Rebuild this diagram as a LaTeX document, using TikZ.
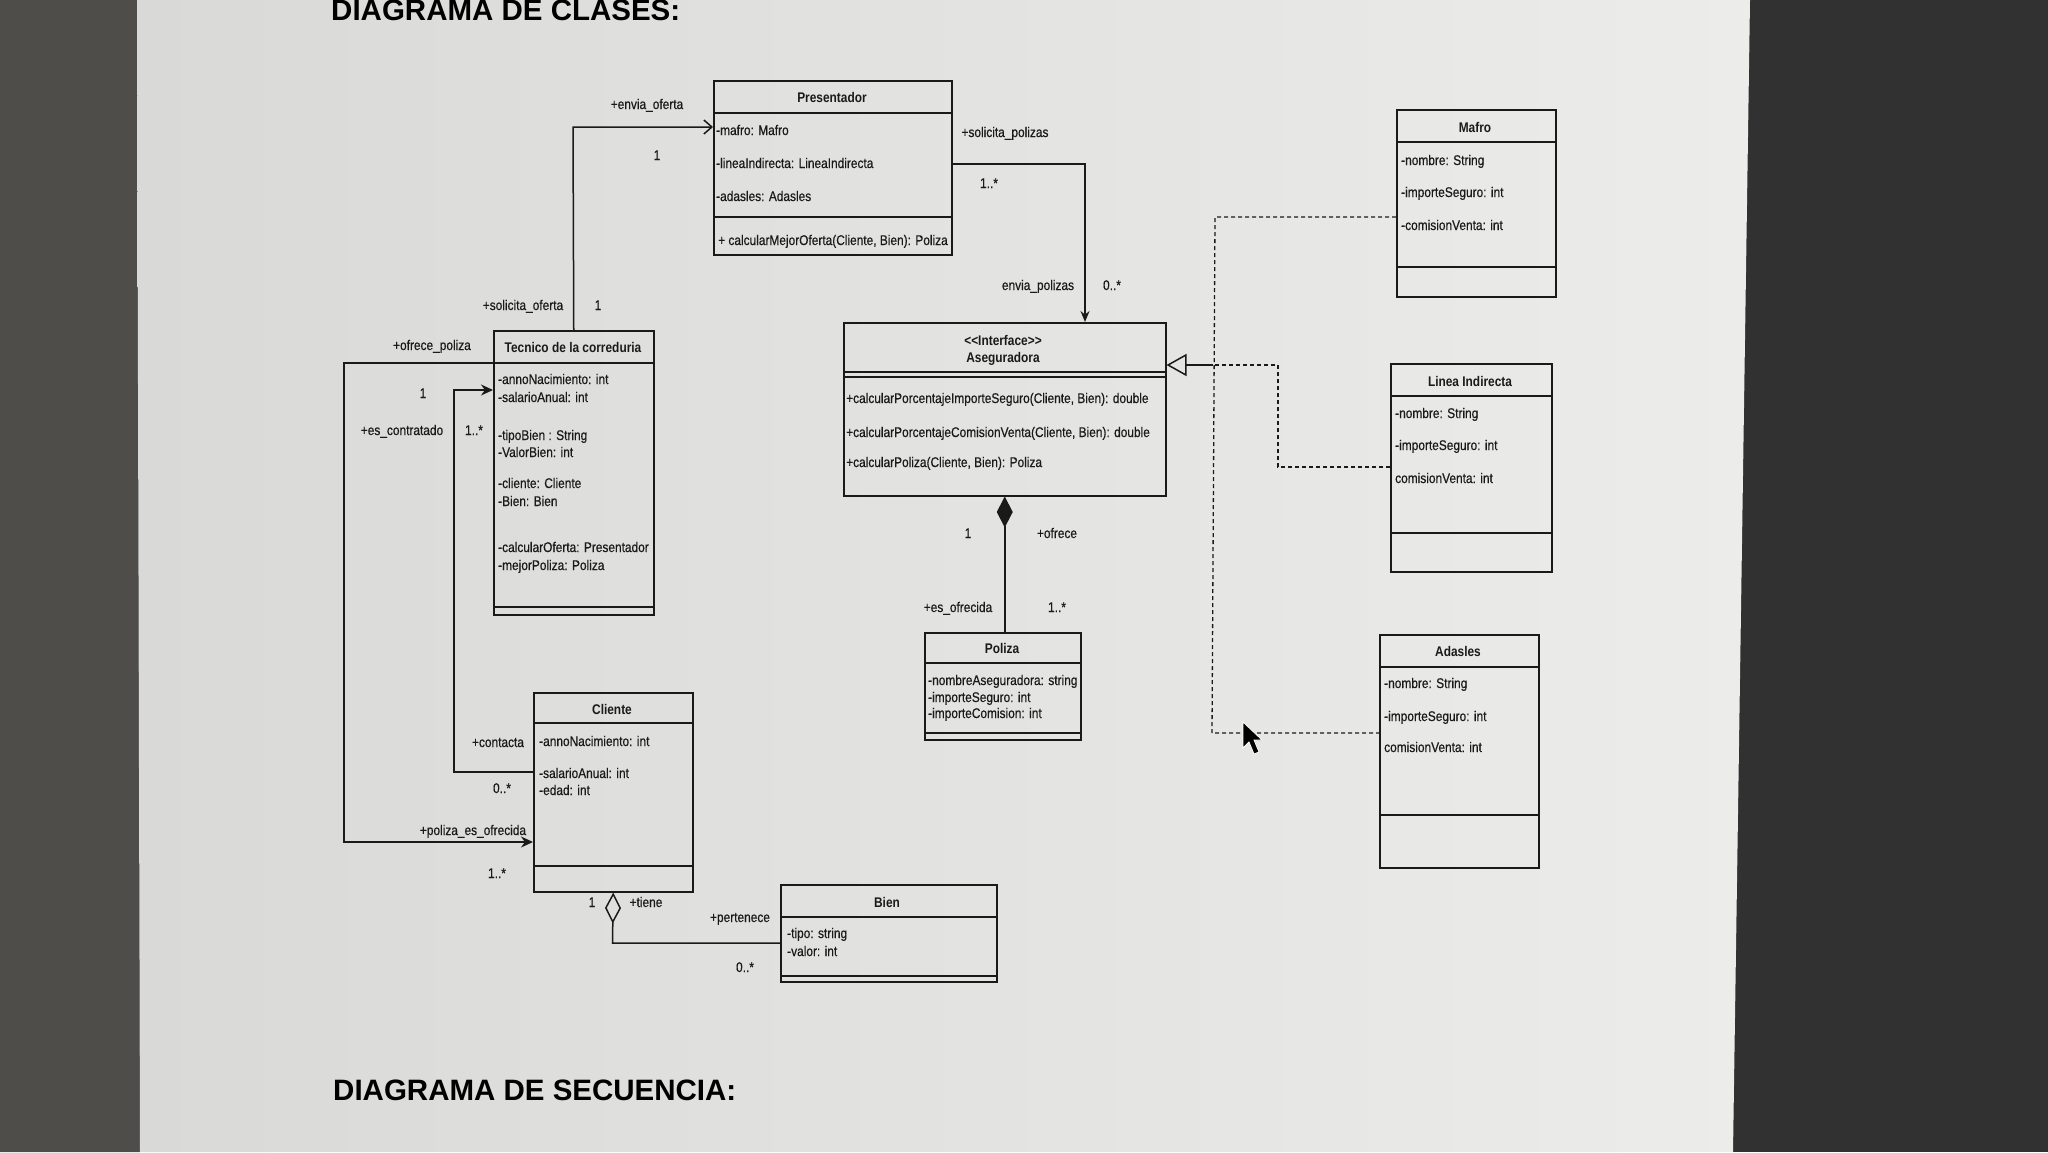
\documentclass[tikz,border=0pt]{standalone}
\usepackage{fontspec}
\setmainfont{Liberation Sans}
\newfontfamily\condfont[FakeStretch=0.85, UprightFeatures={FakeBold=0.5}]{Liberation Sans}
\usetikzlibrary{arrows.meta}
\definecolor{ink}{HTML}{1A1A1A}
\definecolor{screenA}{HTML}{D9DAD8}
\definecolor{screenB}{HTML}{ECEDEB}
\definecolor{leftbg}{HTML}{4F4D49}
\definecolor{rightbg}{HTML}{313131}
\tikzset{
  cls/.style={draw=ink, line width=1.5pt, inner sep=0pt, anchor=north west},
  attr/.style={font=\condfont\fontsize{14}{16}\selectfont, text=ink, anchor=base west, inner sep=0pt},
  cname/.style={font=\condfont\bfseries\fontsize{14}{16}\selectfont, text=ink, anchor=base, inner sep=0pt},
  lbl/.style={font=\condfont\fontsize{14}{16}\selectfont, text=ink, anchor=base, inner sep=0pt},
  conn/.style={draw=ink, line width=1.5pt},
  dconn/.style={draw=ink, line width=1.3pt, dash pattern=on 4pt off 3pt},
  divl/.style={draw=ink, line width=1.5pt},
  heading/.style={font=\bfseries\fontsize{29.5}{32}\selectfont, text=black, anchor=base west, inner sep=0pt},
}
\begin{document}
\begin{tikzpicture}[x=1pt,y=-1pt]
\useasboundingbox (0,0) rectangle (2048,1152);
% background photo areas
\fill[rightbg] (0,0) rectangle (2048,1152);
\fill[leftbg] (0,0) -- (137,0) -- (140,1152) -- (0,1152) -- cycle;
\shade[left color=screenA, right color=screenB] (137,0) -- (1750,0) -- (1733,1152) -- (140,1152) -- cycle;

% headings
\node[heading] (h1) at (331,20) {DIAGRAMA DE CLASES:};
\node[heading] (h2) at (333,1100) {DIAGRAMA DE SECUENCIA:};

% ---------- Presentador
\node[cls, minimum width=238pt, minimum height=174pt] (pres) at (713,80) {};
\draw[divl] (713,113) -- (951,113);
\draw[divl] (713,217) -- (951,217);
\node[cname] (presn) at (832,102) {Presentador};
\node[attr] (pa1) at (716,135) {-mafro: Mafro};
\node[attr] (pa2) at (716,168) {-lineaIndirecta: LineaIndirecta};
\node[attr] (pa3) at (716,201) {-adasles: Adasles};
\node[attr] (pm1) at (718,245) {+ calcularMejorOferta(Cliente, Bien): Poliza};

% ---------- Tecnico de la correduria
\node[cls, minimum width=160pt, minimum height=284pt] (tec) at (493,330) {};
\draw[divl] (493,363) -- (653,363);
\draw[divl] (493,607) -- (653,607);
\node[cname] (tecn) at (573,352) {Tecnico de la correduria};
\node[attr] (ta1) at (498,384) {-annoNacimiento: int};
\node[attr] (ta2) at (498,402) {-salarioAnual: int};
\node[attr] (ta3) at (498,440) {-tipoBien : String};
\node[attr] (ta4) at (498,457) {-ValorBien: int};
\node[attr] (ta5) at (498,488) {-cliente: Cliente};
\node[attr] (ta6) at (498,506) {-Bien: Bien};
\node[attr] (ta7) at (498,552) {-calcularOferta: Presentador};
\node[attr] (ta8) at (498,570) {-mejorPoliza: Poliza};

% ---------- Cliente
\node[cls, minimum width=159pt, minimum height=199pt] (cli) at (533,692) {};
\draw[divl] (533,723) -- (692,723);
\draw[divl] (533,866) -- (692,866);
\node[cname] (clin) at (612,714) {Cliente};
\node[attr] (ca1) at (539,746) {-annoNacimiento: int};
\node[attr] (ca2) at (539,778) {-salarioAnual: int};
\node[attr] (ca3) at (539,795) {-edad: int};

% ---------- Bien
\node[cls, minimum width=216pt, minimum height=97pt] (bien) at (780,884) {};
\draw[divl] (780,917) -- (996,917);
\draw[divl] (780,976) -- (996,976);
\node[cname] (bienn) at (887,907) {Bien};
\node[attr] (ba1) at (787,938) {-tipo: string};
\node[attr] (ba2) at (787,956) {-valor: int};

% ---------- Aseguradora
\node[cls, minimum width=322pt, minimum height=173pt] (aseg) at (843,322) {};
\draw[divl] (843,372) -- (1165,372);
\draw[divl] (843,377) -- (1165,377);
\node[cname] (asegs) at (1003,345) {<<Interface>>};
\node[cname] (asegn) at (1003,362) {Aseguradora};
\node[attr] (am1) at (846,403) {+calcularPorcentajeImporteSeguro(Cliente, Bien): double};
\node[attr] (am2) at (846,437) {+calcularPorcentajeComisionVenta(Cliente, Bien): double};
\node[attr] (am3) at (846,467) {+calcularPoliza(Cliente, Bien): Poliza};

% ---------- Poliza
\node[cls, minimum width=156pt, minimum height=107pt] (pol) at (924,632) {};
\draw[divl] (924,663) -- (1080,663);
\draw[divl] (924,733) -- (1080,733);
\node[cname] (poln) at (1002,653) {Poliza};
\node[attr] (poa1) at (928,685) {-nombreAseguradora: string};
\node[attr] (poa2) at (928,702) {-importeSeguro: int};
\node[attr] (poa3) at (928,718) {-importeComision: int};

% ---------- Mafro
\node[cls, minimum width=159pt, minimum height=187pt] (maf) at (1396,109) {};
\draw[divl] (1396,142) -- (1555,142);
\draw[divl] (1396,267) -- (1555,267);
\node[cname] (mafn) at (1475,132) {Mafro};
\node[attr] (ma1) at (1401,165) {-nombre: String};
\node[attr] (ma2) at (1401,197) {-importeSeguro: int};
\node[attr] (ma3) at (1401,230) {-comisionVenta: int};

% ---------- Linea Indirecta
\node[cls, minimum width=161pt, minimum height=208pt] (lin) at (1390,363) {};
\draw[divl] (1390,396) -- (1551,396);
\draw[divl] (1390,533) -- (1551,533);
\node[cname] (linn) at (1470,386) {Linea Indirecta};
\node[attr] (la1) at (1395,418) {-nombre: String};
\node[attr] (la2) at (1395,450) {-importeSeguro: int};
\node[attr] (la3) at (1395,483) {comisionVenta: int};

% ---------- Adasles
\node[cls, minimum width=159pt, minimum height=233pt] (ada) at (1379,634) {};
\draw[divl] (1379,667) -- (1538,667);
\draw[divl] (1379,815) -- (1538,815);
\node[cname] (adan) at (1458,656) {Adasles};
\node[attr] (da1) at (1384,688) {-nombre: String};
\node[attr] (da2) at (1384,721) {-importeSeguro: int};
\node[attr] (da3) at (1384,752) {comisionVenta: int};

% ---------- connectors
% Tecnico -> Presentador
\coordinate (eo) at (573,127);
\draw[conn, -{Straight Barb[length=8pt,width=14pt]}] (tec.north) -- (eo) -- (pres.west |- eo);
\node[lbl] (l1) at (647,109) {+envia\_oferta};
\node[lbl] (l2) at (657,160) {1};
\node[lbl] (l3) at (523,310) {+solicita\_oferta};
\node[lbl] (l4) at (598,310) {1};

% Presentador -> Aseguradora
\coordinate (sp) at (1085,164);
\draw[conn, -{Stealth[length=11pt,width=9pt]}] (pres.east |- sp) -- (sp) -- (aseg.north -| sp);
\node[lbl] (l5) at (1005,137) {+solicita\_polizas};
\node[lbl] (l6) at (989,188) {1..*};
\node[lbl] (l7) at (1038,290) {envia\_polizas};
\node[lbl] (l8) at (1112,290) {0..*};

% Tecnico -> Cliente (ofrece_poliza)
\coordinate (op1) at (344,363);
\coordinate (op2) at (344,842);
\draw[conn, -{Stealth[length=12pt,width=11pt]}] (tec.west |- op1) -- (op1) -- (op2) -- (cli.west |- op2);
\node[lbl] (l9) at (432,350) {+ofrece\_poliza};
\node[lbl] (l10) at (423,398) {1};
\node[lbl] (l11) at (473,835) {+poliza\_es\_ofrecida};
\node[lbl] (l12) at (497,878) {1..*};

% Cliente -> Tecnico (contacta)
\coordinate (ct1) at (454,772);
\coordinate (ct2) at (454,390);
\draw[conn, -{Stealth[length=12pt,width=11pt]}] (cli.west |- ct1) -- (ct1) -- (ct2) -- (tec.west |- ct2);
\node[lbl] (l13) at (402,435) {+es\_contratado};
\node[lbl] (l14) at (474,435) {1..*};
\node[lbl] (l15) at (498,747) {+contacta};
\node[lbl] (l16) at (502,793) {0..*};

% Cliente <>-- Bien (aggregation)
\coordinate (ag) at (612.5,943);
\draw[conn, {Diamond[open,length=31pt,width=16pt]}-] (cli.south) -- (ag) -- (bien.west |- ag);
\node[lbl] (l17) at (592,907) {1};
\node[lbl] (l18) at (646,907) {+tiene};
\node[lbl] (l19) at (740,922) {+pertenece};
\node[lbl] (l20) at (745,972) {0..*};

% Aseguradora <#>-- Poliza (composition)
\draw[conn, {Diamond[length=31pt,width=16pt]}-] (aseg.south) -- (aseg.south |- pol.north);
\node[lbl] (l21) at (968,538) {1};
\node[lbl] (l22) at (1057,538) {+ofrece};
\node[lbl] (l23) at (958,612) {+es\_ofrecida};
\node[lbl] (l24) at (1057,612) {1..*};

% realizations
\coordinate (rj) at (1213,365);
\coordinate (rm) at (1215,217);
\coordinate (ra) at (1212,733);
\coordinate (rl1) at (1278,467);
\coordinate (rl2) at (1278,365);
\draw[dconn] (maf.west |- rm) -- (rm) -- (ra) -- (ada.west |- ra);
\draw[dconn] (lin.west |- rl1) -- (rl1) -- (rl2) -- (rj);
\draw[conn, -{Triangle[open,length=20pt,width=22pt]}] (rj) -- (aseg.east |- rj);

% mouse cursor
\filldraw[fill=black, draw=white, line width=0.8pt]
  (1243,722) -- (1243,748) -- (1249,742) -- (1254,754) -- (1259,752) -- (1254,740) -- (1262,740) -- cycle;
\end{tikzpicture}
\end{document}
